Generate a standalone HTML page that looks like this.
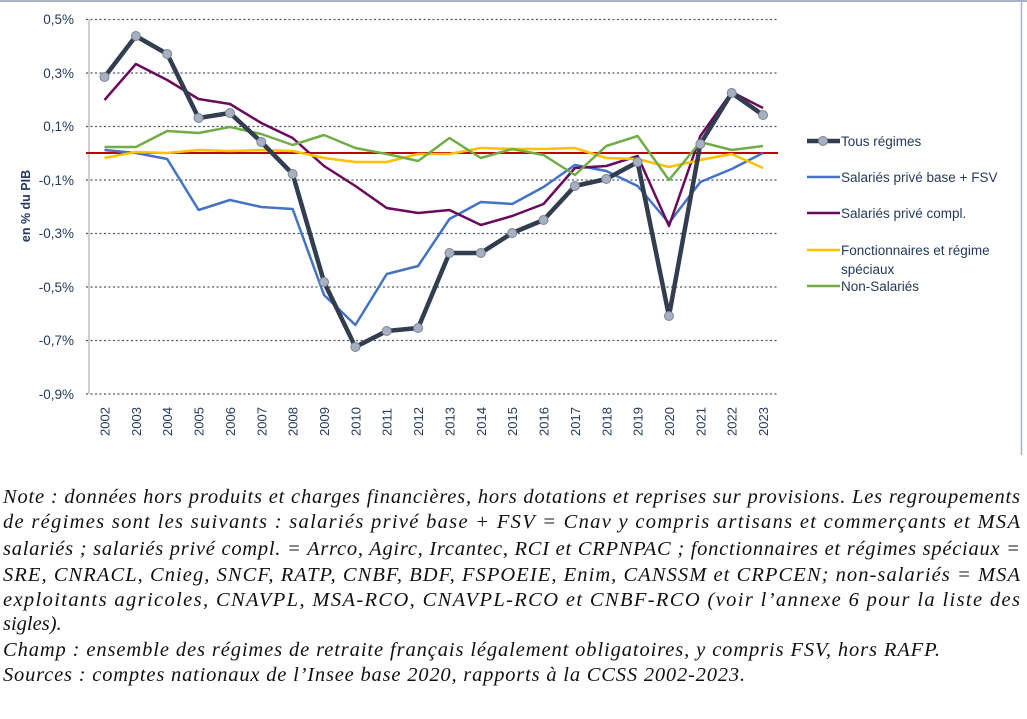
<!DOCTYPE html>
<html><head><meta charset="utf-8"><style>
html,body{margin:0;padding:0;background:#fff;}
svg{display:block}
</style></head><body>
<svg width="1027" height="719" viewBox="0 0 1027 719" xmlns="http://www.w3.org/2000/svg">
<line x1="0" y1="1" x2="1027" y2="1" stroke="#a9b1c4" stroke-width="2"/>
<line x1="1021.5" y1="0" x2="1021.5" y2="455" stroke="#a9b1c4" stroke-width="1.5"/>
<g stroke="#44546a" stroke-width="1.3" stroke-dasharray="2,2.5">
<line x1="86" y1="19.5" x2="778" y2="19.5"/>
<line x1="86" y1="73" x2="778" y2="73"/>
<line x1="86" y1="126.5" x2="778" y2="126.5"/>
<line x1="86" y1="180" x2="778" y2="180"/>
<line x1="86" y1="233.5" x2="778" y2="233.5"/>
<line x1="86" y1="287" x2="778" y2="287"/>
<line x1="86" y1="340.5" x2="778" y2="340.5"/>
<line x1="86" y1="394" x2="778" y2="394"/>
</g>
<line x1="89" y1="19" x2="89" y2="394" stroke="#bfbfbf" stroke-width="1.5"/>
<g font-family="Liberation Sans, sans-serif" font-size="13.5" fill="#243a5e" text-anchor="end">
<text x="74" y="24">0,5%</text><text x="74" y="78">0,3%</text><text x="74" y="131">0,1%</text>
<text x="74" y="185">-0,1%</text><text x="74" y="238">-0,3%</text><text x="74" y="292">-0,5%</text>
<text x="74" y="345">-0,7%</text><text x="74" y="399">-0,9%</text>
</g>
<text transform="translate(30,206) rotate(-90)" text-anchor="middle" font-family="Liberation Sans, sans-serif" font-size="12.5" font-weight="bold" fill="#243a5e">en % du PIB</text>
<g font-family="Liberation Sans, sans-serif" font-size="13" fill="#243a5e" id="xl"></g>
<line x1="86" y1="153" x2="778" y2="153" stroke="#c00000" stroke-width="2"/>
<g fill="none" stroke-linejoin="round" id="series"></g>
<g font-family="Liberation Sans, sans-serif" font-size="13.5" fill="#243a5e" xml:space="preserve">
<line x1="807" y1="141" x2="840" y2="141" stroke="#323e4f" stroke-width="4.5"/>
<circle cx="823" cy="141" r="4.5" fill="#a6b0c0" stroke="#7b8594" stroke-width="1"/>
<text x="841" y="146">Tous régimes</text>
<line x1="807" y1="177" x2="840" y2="177" stroke="#4472c4" stroke-width="2.5"/>
<text x="841" y="182">Salariés  privé base + FSV</text>
<line x1="807" y1="213" x2="840" y2="213" stroke="#6a0a5c" stroke-width="2.5"/>
<text x="841" y="218">Salariés  privé compl.</text>
<line x1="807" y1="250" x2="840" y2="250" stroke="#ffc000" stroke-width="2.5"/>
<text x="841" y="255">Fonctionnaires et régime</text>
<text x="841" y="274">spéciaux</text>
<line x1="807" y1="286" x2="840" y2="286" stroke="#70ad47" stroke-width="2.5"/>
<text x="841" y="291">Non-Salariés</text>
</g>
<g font-family="Liberation Serif, serif" font-style="italic" font-size="20.5" fill="#111">
<text x="3" y="503" textLength="1017" lengthAdjust="spacing">Note : données hors produits et charges financières, hors dotations et reprises sur provisions. Les regroupements</text>
<text x="3" y="528" textLength="1017" lengthAdjust="spacing">de régimes sont les suivants : salariés privé base + FSV = Cnav y compris artisans et commerçants et MSA</text>
<text x="3" y="555" textLength="1017" lengthAdjust="spacing">salariés ; salariés privé compl. = Arrco, Agirc, Ircantec, RCI et CRPNPAC ; fonctionnaires et régimes spéciaux =</text>
<text x="3" y="581" textLength="1017" lengthAdjust="spacing">SRE, CNRACL, Cnieg, SNCF, RATP, CNBF, BDF, FSPOEIE, Enim, CANSSM et CRPCEN; non-salariés = MSA</text>
<text x="3" y="606" textLength="1017" lengthAdjust="spacing">exploitants agricoles, CNAVPL, MSA-RCO, CNAVPL-RCO et CNBF-RCO (voir l’annexe 6 pour la liste des</text>
<text x="3" y="630">sigles).</text>
<text x="3" y="656" textLength="937" lengthAdjust="spacing">Champ : ensemble des régimes de retraite français légalement obligatoires, y compris FSV, hors RAFP.</text>
<text x="3" y="681" textLength="742" lengthAdjust="spacing">Sources : comptes nationaux de l’Insee base 2020, rapports à la CCSS 2002-2023.</text>
</g>
</svg>
<script>
var NS="http://www.w3.org/2000/svg";
function X(i){return 104.5+i*31.36;}
var xl=document.getElementById('xl');
for(var i=0;i<22;i++){var t=document.createElementNS(NS,'text');t.setAttribute('transform','translate('+(X(i)+5)+',436) rotate(-90)');t.textContent=2002+i;xl.appendChild(t);}
var S=[
["#4472c4",2.5,[150,153,159,210,200,207,209,295,325,274,266,219,202,204,187,165,171,186,223,182,169,153]],
["#6a0a5c",2.5,[100,64,80,99,104,123,138,166,186,208,213,210,225,216,204,168,166,156,226,136,92,108]],
["#ffc000",2.5,[158,152,153,150,151,150,151,158,162,162,154,154,148,149,149,148,158,159,167,160,154,168]],
["#70ad47",2.5,[147,147,131,133,127,134,145,135,148,154,161,138,158,149,155,175,146,136,180,142,150,146]],
["#323e4f",4.5,[77,36,54,118,113,142,174,282,347,331,328,253,253,233,220,186,179,162,316,144,93,115]]];
var g=document.getElementById('series');
S.forEach(function(s,k){var p=document.createElementNS(NS,'polyline');p.setAttribute('points',s[2].map(function(y,i){return X(i)+','+y;}).join(' '));p.setAttribute('stroke',s[0]);p.setAttribute('stroke-width',s[1]);g.appendChild(p);
if(k==4){s[2].forEach(function(y,i){var c=document.createElementNS(NS,'circle');c.setAttribute('cx',X(i));c.setAttribute('cy',y);c.setAttribute('r',4.5);c.setAttribute('fill','#a6b0c0');c.setAttribute('stroke','#7b8594');g.appendChild(c);});}});
</script>
</body></html>
